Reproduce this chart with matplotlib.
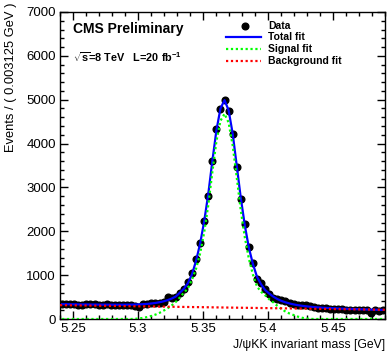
import matplotlib
matplotlib.use("Agg")
import matplotlib.pyplot as plt
import numpy as np
from matplotlib.lines import Line2D
from matplotlib.ticker import MultipleLocator

plt.rcParams["font.family"] = ["Liberation Sans", "DejaVu Sans"]
plt.rcParams["mathtext.fontset"] = "custom"
plt.rcParams["mathtext.rm"] = "Liberation Sans"
plt.rcParams["mathtext.bf"] = "Liberation Sans:bold"

# binning: 80 bins of 0.003125 GeV between 5.24 and 5.49
x_lo, x_hi, n_bins = 5.24, 5.49, 80
bin_w = (x_hi - x_lo) / n_bins
centers = x_lo + (np.arange(n_bins) + 0.5) * bin_w

# data points (events per bin)
data = [340, 345, 335, 340, 330, 325, 345, 350, 335, 330,
        320, 335, 325, 315, 320, 330, 310, 315, 300, 285,
        340, 350, 355, 360, 372, 395, 505, 470, 500, 590,
        695, 855, 1040, 1370, 1735, 2225, 2800, 3610, 4325, 4780,
        4990, 4740, 4210, 3475, 2730, 2165, 1635, 1270, 920, 814,
        677, 570, 490, 455, 430, 400, 370, 345, 330, 320,
        310, 290, 270, 262, 255, 245, 235, 230, 225, 220,
        210, 215, 205, 210, 200, 205, 130, 195, 190, 195]

# total fit at bin centres
total_fit = [338, 337, 336, 335, 334, 333, 332, 331, 330, 329,
             328, 327, 327, 326, 326, 326, 327, 328, 330, 333,
             338, 345, 354, 366, 382, 403, 430, 466, 513, 600,
             690, 820, 1020, 1330, 1720, 2230, 2850, 3600, 4300, 4800,
             4990, 4760, 4230, 3500, 2760, 2130, 1620, 1250, 960, 790,
             660, 580, 510, 455, 412, 380, 354, 333, 316, 302,
             290, 280, 272, 265, 259, 253, 248, 244, 240, 236,
             232, 229, 226, 223, 220, 217, 215, 212, 210, 208]

# signal component
signal_fit = [0, 0, 0, 0, 0, 0, 0, 0, 0, 0,
              0, 0, 0, 0, 0, 0, 0, 0, 4, 12,
              25, 45, 70, 100, 140, 190, 245, 310, 390, 490,
              600, 700, 900, 1150, 1500, 1980, 2600, 3350, 4050, 4520,
              4680, 4480, 3960, 3230, 2480, 1860, 1370, 1010, 740, 620,
              540, 450, 380, 300, 230, 170, 125, 90, 55, 30,
              12, 3, 0, 0, 0, 0, 0, 0, 0, 0,
              0, 0, 0, 0, 0, 0, 0, 0, 0, 0]

# linear background, values at the two ends of the range
bkg_x = [x_lo, x_hi]
bkg_fit = [315, 210]

fig = plt.figure(figsize=(3.87, 3.57), dpi=100)
ax = fig.add_axes([60 / 387, 1 - 319 / 357, 325 / 387, 307 / 357])

ax.errorbar(centers, data, yerr=np.sqrt(data), xerr=bin_w / 2, fmt="o",
            color="black", ms=4.8, elinewidth=1.0, capsize=0, zorder=3)
ax.plot(centers, total_fit, color="#0000ff", lw=1.6, zorder=4)
ax.plot(centers, signal_fit, color="#00ff00", lw=1.6, ls=(0, (1, 1.2)), zorder=4)
ax.plot(bkg_x, bkg_fit, color="#ff0000", lw=1.6, ls=(0, (1, 1.2)), zorder=4)

ax.set_xlim(x_lo, x_hi)
ax.set_ylim(0, 7000)
ax.xaxis.set_major_locator(MultipleLocator(0.05))
ax.xaxis.set_minor_locator(MultipleLocator(0.01))
ax.yaxis.set_major_locator(MultipleLocator(1000))
ax.yaxis.set_minor_locator(MultipleLocator(200))
ax.set_xticks([5.25, 5.3, 5.35, 5.4, 5.45])
ax.set_xticklabels(["5.25", "5.3", "5.35", "5.4", "5.45"])
ax.tick_params(which="both", direction="in", top=True, right=True,
               labelsize=9.5, width=1.0, pad=3)
ax.tick_params(which="major", length=6)
ax.tick_params(which="minor", length=3)
for s in ax.spines.values():
    s.set_linewidth(1.0)

# axis titles placed the ROOT way: aligned to the top / right ends
fig.text(11 / 387, 1 - 3 / 357, "Events / ( 0.003125 GeV )", fontsize=9.3,
         rotation=90, ha="center", va="top")
fig.text(385 / 387, 1 - 339 / 357, "J/\u03c8KK invariant mass [GeV]",
         fontsize=8.8, ha="right", va="top")

ax.text(0.04, 0.945, "CMS Preliminary", transform=ax.transAxes,
        fontsize=10, fontweight="bold", va="center", ha="left")
ax.text(0.04, 0.853, r"$\sqrt{\mathbf{s}}$" + "=8 TeV   L=20 fb" + r"$^{\mathbf{-1}}$",
        transform=ax.transAxes, fontsize=7.8, fontweight="bold",
        va="center", ha="left")

# legend
leg_txt_x = 0.640
rows = [0.954, 0.919, 0.879, 0.840]
ax.add_line(Line2D([0.569], [rows[0]], marker="o", color="black", ms=4.8,
                   transform=ax.transAxes))
ax.add_line(Line2D([0.511, 0.618], [rows[1]] * 2, color="#0000ff", lw=1.6,
                   transform=ax.transAxes))
ax.add_line(Line2D([0.511, 0.618], [rows[2]] * 2, color="#00ff00", lw=1.6,
                   ls=(0, (1, 1.2)), transform=ax.transAxes))
ax.add_line(Line2D([0.511, 0.618], [rows[3]] * 2, color="#ff0000", lw=1.6,
                   ls=(0, (1, 1.2)), transform=ax.transAxes))
for label, y in zip(["Data", "Total fit", "Signal fit", "Background fit"], rows):
    ax.text(leg_txt_x, y, label, transform=ax.transAxes, fontsize=7.5,
            fontweight="bold", va="center", ha="left")

fig.savefig("out.png", dpi=100)
